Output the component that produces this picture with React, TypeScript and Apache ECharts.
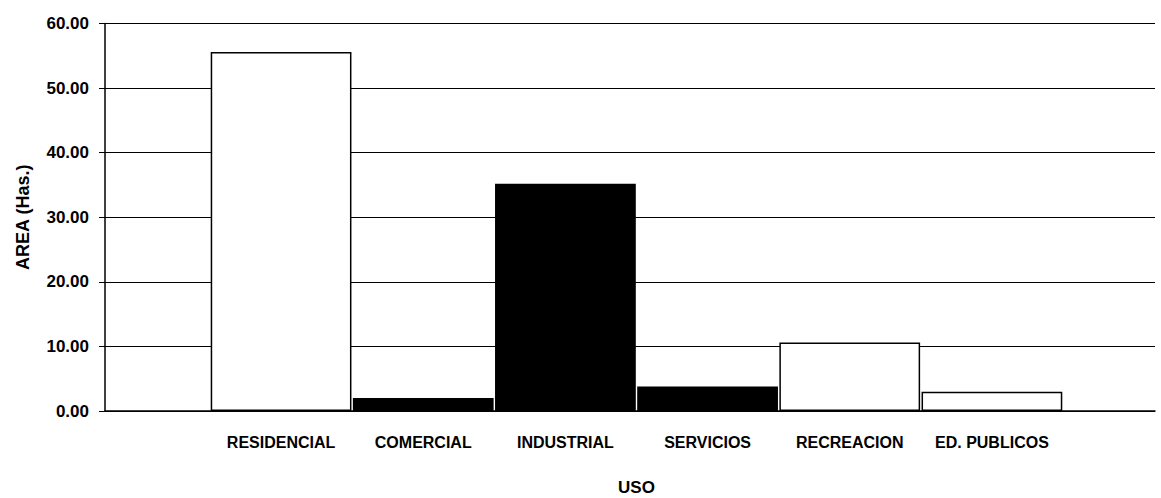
import React, { useEffect, useRef } from "react";
import * as echarts from "echarts";

const categories = ["RESIDENCIAL", "COMERCIAL", "INDUSTRIAL", "SERVICIOS", "RECREACION", "ED. PUBLICOS"];
const areaValues = [55.6, 2.0, 35.2, 3.8, 10.6, 3.0];
const barFills = ["#ffffff", "#000000", "#000000", "#000000", "#ffffff", "#ffffff"];
const yTicks = [0, 10, 20, 30, 40, 50, 60];

const FONT = "'Liberation Sans', Arial, sans-serif";

export default function App() {
  const ref = useRef<HTMLDivElement>(null);
  useEffect(() => {
    if (!ref.current) return;
    const chart = echarts.init(ref.current, undefined, { renderer: "svg" });
    chart.setOption({
      animation: false,
      backgroundColor: "#ffffff",
      textStyle: { fontFamily: FONT },
      grid: [
        { left: 105, right: 6, top: 23.5, bottom: 87, outerBoundsMode: "none", containLabel: false },
        { left: 210, right: 98, top: 23.5, bottom: 87, outerBoundsMode: "none", containLabel: false },
      ],
      xAxis: [
        {
          type: "value",
          gridIndex: 0,
          min: 0,
          max: 1,
          axisLine: { show: true, onZero: false, lineStyle: { color: "#000", width: 1.5 } },
          axisTick: { show: false },
          axisLabel: { show: false },
          splitLine: { show: false },
        },
        {
          type: "category",
          gridIndex: 1,
          data: categories,
          axisLine: { show: false },
          axisTick: { show: false },
          axisLabel: {
            color: "#000",
            fontWeight: "bold",
            fontSize: 16,
            fontFamily: FONT,
            margin: 23,
            interval: 0,
            hideOverlap: false,
          },
          name: "USO",
          nameLocation: "middle",
          nameGap: 68,
          nameTextStyle: { color: "#000", fontWeight: "bold", fontSize: 17, fontFamily: FONT },
        },
      ],
      yAxis: [
        {
          type: "value",
          gridIndex: 0,
          min: 0,
          max: yTicks[yTicks.length - 1],
          interval: 10,
          axisLine: { show: true, lineStyle: { color: "#000", width: 1.5 } },
          axisTick: { show: true, length: 6, lineStyle: { color: "#000" } },
          axisLabel: {
            color: "#000",
            fontWeight: "bold",
            fontSize: 17,
            fontFamily: FONT,
            margin: 16,
            formatter: (v: number) => v.toFixed(2),
          },
          splitLine: { show: true, lineStyle: { color: "#000", width: 1.2 } },
          name: "AREA (Has.)",
          nameLocation: "middle",
          nameGap: 73,
          nameRotate: 90,
          nameTextStyle: { color: "#000", fontWeight: "bold", fontSize: 18, fontFamily: FONT },
        },
        {
          type: "value",
          gridIndex: 1,
          min: 0,
          max: yTicks[yTicks.length - 1],
          interval: 10,
          show: false,
        },
      ],
      series: [
        {
          type: "bar",
          xAxisIndex: 1,
          yAxisIndex: 1,
          barCategoryGap: "1%",
          data: areaValues.map((v, i) => ({
            value: v,
            itemStyle: {
              color: barFills[i],
              borderColor: "#000",
              borderWidth: 1.5,
            },
          })),
        },
      ],
    });
    return () => chart.dispose();
  }, []);
  return (
    <div
      ref={ref}
      style={{ position: "fixed", left: 0, top: 0, width: 1161, height: 498, background: "#fff" }}
    />
  );
}
